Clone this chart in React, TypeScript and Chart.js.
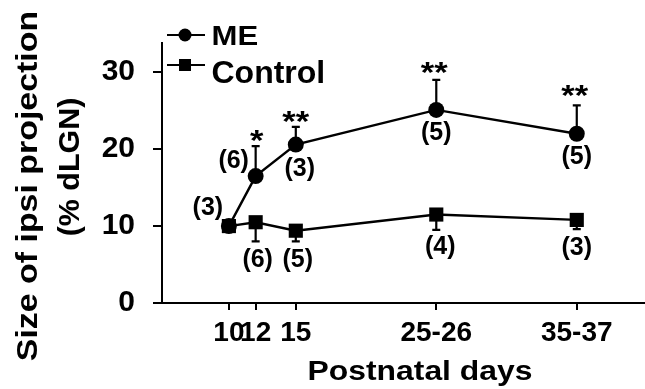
import React, { useEffect, useRef } from 'react';
import { Chart, registerables } from 'chart.js';

Chart.register(...registerables);

// ---- data ----
const dayLabels = ['10', '12', '15', '25-26', '35-37'];
const dayValues = [10, 12, 15, 25.5, 36];
const meMean = [10, 16.5, 20.6, 25.1, 22.0];
const meErr = [0, 3.9, 2.3, 3.9, 3.7];
const ctrlMean = [10, 10.5, 9.4, 11.5, 10.8];
const ctrlErr = [0, 2.5, 1.4, 2.0, 1.2];
const meN = ['(3)', '(6)', '(3)', '(5)', '(5)'];
const ctrlN = ['', '(6)', '(5)', '(4)', '(3)'];
const meSig = ['', '*', '**', '**', '**'];
const yTickValues = [0, 10, 20, 30];
const seriesNames = ['ME', 'Control'];
const xTitle = 'Postnatal days';
const yTitleLines = ['Size of ipsi projection', '(% dLGN)'];

// ---- layout (pixel offsets of labels relative to their points) ----
const meNOffset = [[-21, -18], [-22, -15], [4, 24.5], [0, 24], [0, 23.5]];
const meSigOffset = [[0, 0], [1, -43], [0, -31], [-2, -45], [-2, -46]];
const ctrlNOffset = [[0, 0], [2, 38.5], [2, 30], [4, 33], [0, 29]];

const FONT = "'Liberation Sans', Arial, Helvetica, sans-serif";
const N_SIZE = 25;
const SIG_SIZE = 30;

function drawText(
  ctx: CanvasRenderingContext2D,
  text: string,
  x: number,
  y: number,
  size: number,
  sx: number,
  align: CanvasTextAlign,
  rotate = 0
) {
  ctx.save();
  ctx.translate(x, y);
  if (rotate) ctx.rotate(rotate);
  ctx.scale(sx, 1);
  ctx.font = `bold ${size}px ${FONT}`;
  ctx.textAlign = align;
  ctx.textBaseline = 'alphabetic';
  ctx.fillStyle = '#000';
  ctx.fillText(text, 0, 0);
  ctx.restore();
}

const overlay = {
  id: 'overlay',
  beforeDatasetsDraw(chart: any) {
    const ctx: CanvasRenderingContext2D = chart.ctx;
    const xs = chart.scales.x;
    const ys = chart.scales.y;
    ctx.save();
    ctx.strokeStyle = '#000';
    ctx.lineWidth = 2.2;
    const bar = (xv: number, y0: number, y1: number) => {
      const px = xs.getPixelForValue(xv);
      const p0 = ys.getPixelForValue(y0);
      const p1 = ys.getPixelForValue(y1);
      ctx.beginPath();
      ctx.moveTo(px, p0);
      ctx.lineTo(px, p1);
      ctx.moveTo(px - 4, p1);
      ctx.lineTo(px + 4, p1);
      ctx.stroke();
    };
    dayValues.forEach((d, i) => {
      if (meErr[i] > 0) bar(d, meMean[i], meMean[i] + meErr[i]);
      if (ctrlErr[i] > 0) bar(d, ctrlMean[i], ctrlMean[i] - ctrlErr[i]);
    });
    ctx.restore();
  },
  afterDraw(chart: any) {
    const ctx: CanvasRenderingContext2D = chart.ctx;
    const xs = chart.scales.x;
    const ys = chart.scales.y;

    // annotations
    dayValues.forEach((d, i) => {
      const px = xs.getPixelForValue(d);
      const pyMe = ys.getPixelForValue(meMean[i]);
      const pyCt = ys.getPixelForValue(ctrlMean[i]);
      if (meN[i]) {
        const [dx, dy] = meNOffset[i];
        drawText(ctx, meN[i], px + dx, pyMe + dy + 0.26 * N_SIZE, N_SIZE, 1.0, 'center');
      }
      if (meSig[i]) {
        const [dx, dy] = meSigOffset[i];
        drawText(ctx, meSig[i], px + dx, pyMe + dy + 0.58 * SIG_SIZE, SIG_SIZE, 1.15, 'center');
      }
      if (ctrlN[i]) {
        const [dx, dy] = ctrlNOffset[i];
        drawText(ctx, ctrlN[i], px + dx, pyCt + dy + 0.26 * N_SIZE, N_SIZE, 1.0, 'center');
      }
    });

    // legend
    ctx.save();
    ctx.strokeStyle = '#000';
    ctx.fillStyle = '#000';
    ctx.lineWidth = 2.2;
    ctx.beginPath();
    ctx.moveTo(167, 35);
    ctx.lineTo(205, 35);
    ctx.moveTo(167, 65);
    ctx.lineTo(205, 65);
    ctx.stroke();
    ctx.beginPath();
    ctx.arc(185, 35, 6.5, 0, Math.PI * 2);
    ctx.fill();
    ctx.fillRect(179, 59, 12, 12);
    ctx.restore();
    drawText(ctx, seriesNames[0], 211.5, 45, 28, 1.11, 'left');
    drawText(ctx, seriesNames[1], 211.5, 82.5, 32, 1.0, 'left');

    // axis titles
    drawText(ctx, xTitle, 420, 380, 27, 1.18, 'center');
    drawText(ctx, yTitleLines[0], 36.5, 186, 30, 1.13, 'center', -Math.PI / 2);
    drawText(ctx, yTitleLines[1], 79, 167, 29, 1.05, 'center', -Math.PI / 2);
  },
};

export default function App() {
  const ref = useRef<HTMLCanvasElement>(null);

  useEffect(() => {
    if (!ref.current) return;
    const chart = new Chart(ref.current, {
      type: 'line',
      data: {
        datasets: [
          {
            label: seriesNames[0],
            data: dayValues.map((x, i) => ({ x, y: meMean[i] })),
            borderColor: '#000',
            backgroundColor: '#000',
            borderWidth: 2.4,
            pointStyle: 'circle',
            pointRadius: 8,
            pointBorderWidth: 0,
            pointBackgroundColor: '#000',
            tension: 0,
            order: 1,
          },
          {
            label: seriesNames[1],
            data: dayValues.map((x, i) => ({ x, y: ctrlMean[i] })),
            borderColor: '#000',
            backgroundColor: '#000',
            borderWidth: 2.4,
            pointStyle: 'rect',
            pointRadius: 10,
            pointBorderWidth: 0,
            pointBackgroundColor: '#000',
            tension: 0,
            order: 0,
          },
        ],
      },
      options: {
        responsive: false,
        animation: false,
        layout: { autoPadding: false, padding: { top: 43, left: 0, right: 0, bottom: 0 } },
        plugins: {
          legend: { display: false },
          tooltip: { enabled: false },
        },
        scales: {
          x: {
            type: 'linear',
            min: 5,
            max: 41.1,
            offset: false,
            afterBuildTicks: (s: any) => {
              s.ticks = dayValues.map((v) => ({ value: v }));
            },
            afterFit: (s: any) => {
              s.height = 86;
              s.paddingLeft = 0;
              s.paddingRight = 0;
            },
            ticks: {
              autoSkip: false,
              maxRotation: 0,
              minRotation: 0,
              padding: 6,
              color: '#000',
              font: { family: FONT, size: 28, weight: 'bold' },
              callback: (_v: any, i: number) => dayLabels[i],
            },
            grid: {
              display: true,
              drawOnChartArea: false,
              drawTicks: true,
              tickLength: 7,
              color: '#000',
              lineWidth: 2,
            },
            border: { display: true, color: '#000', width: 2 },
          },
          y: {
            type: 'linear',
            min: 0,
            max: 33.8,
            afterBuildTicks: (s: any) => {
              s.ticks = yTickValues.map((v) => ({ value: v }));
            },
            afterFit: (s: any) => {
              s.width = 162;
              s.paddingTop = 0;
              s.paddingBottom = 0;
            },
            ticks: {
              padding: 18,
              color: '#000',
              font: { family: FONT, size: 30, weight: 'bold' },
              callback: (v: any) => String(v),
            },
            grid: {
              display: true,
              drawOnChartArea: false,
              drawTicks: true,
              tickLength: 9,
              color: '#000',
              lineWidth: 2,
            },
            border: { display: true, color: '#000', width: 2 },
          },
        },
      },
      plugins: [overlay],
    } as any);
    return () => chart.destroy();
  }, []);

  return (
    <div style={{ position: 'absolute', left: 0, top: 0, width: 645, height: 389, background: '#fff' }}>
      <canvas ref={ref} width={645} height={389} style={{ display: 'block' }} />
    </div>
  );
}
